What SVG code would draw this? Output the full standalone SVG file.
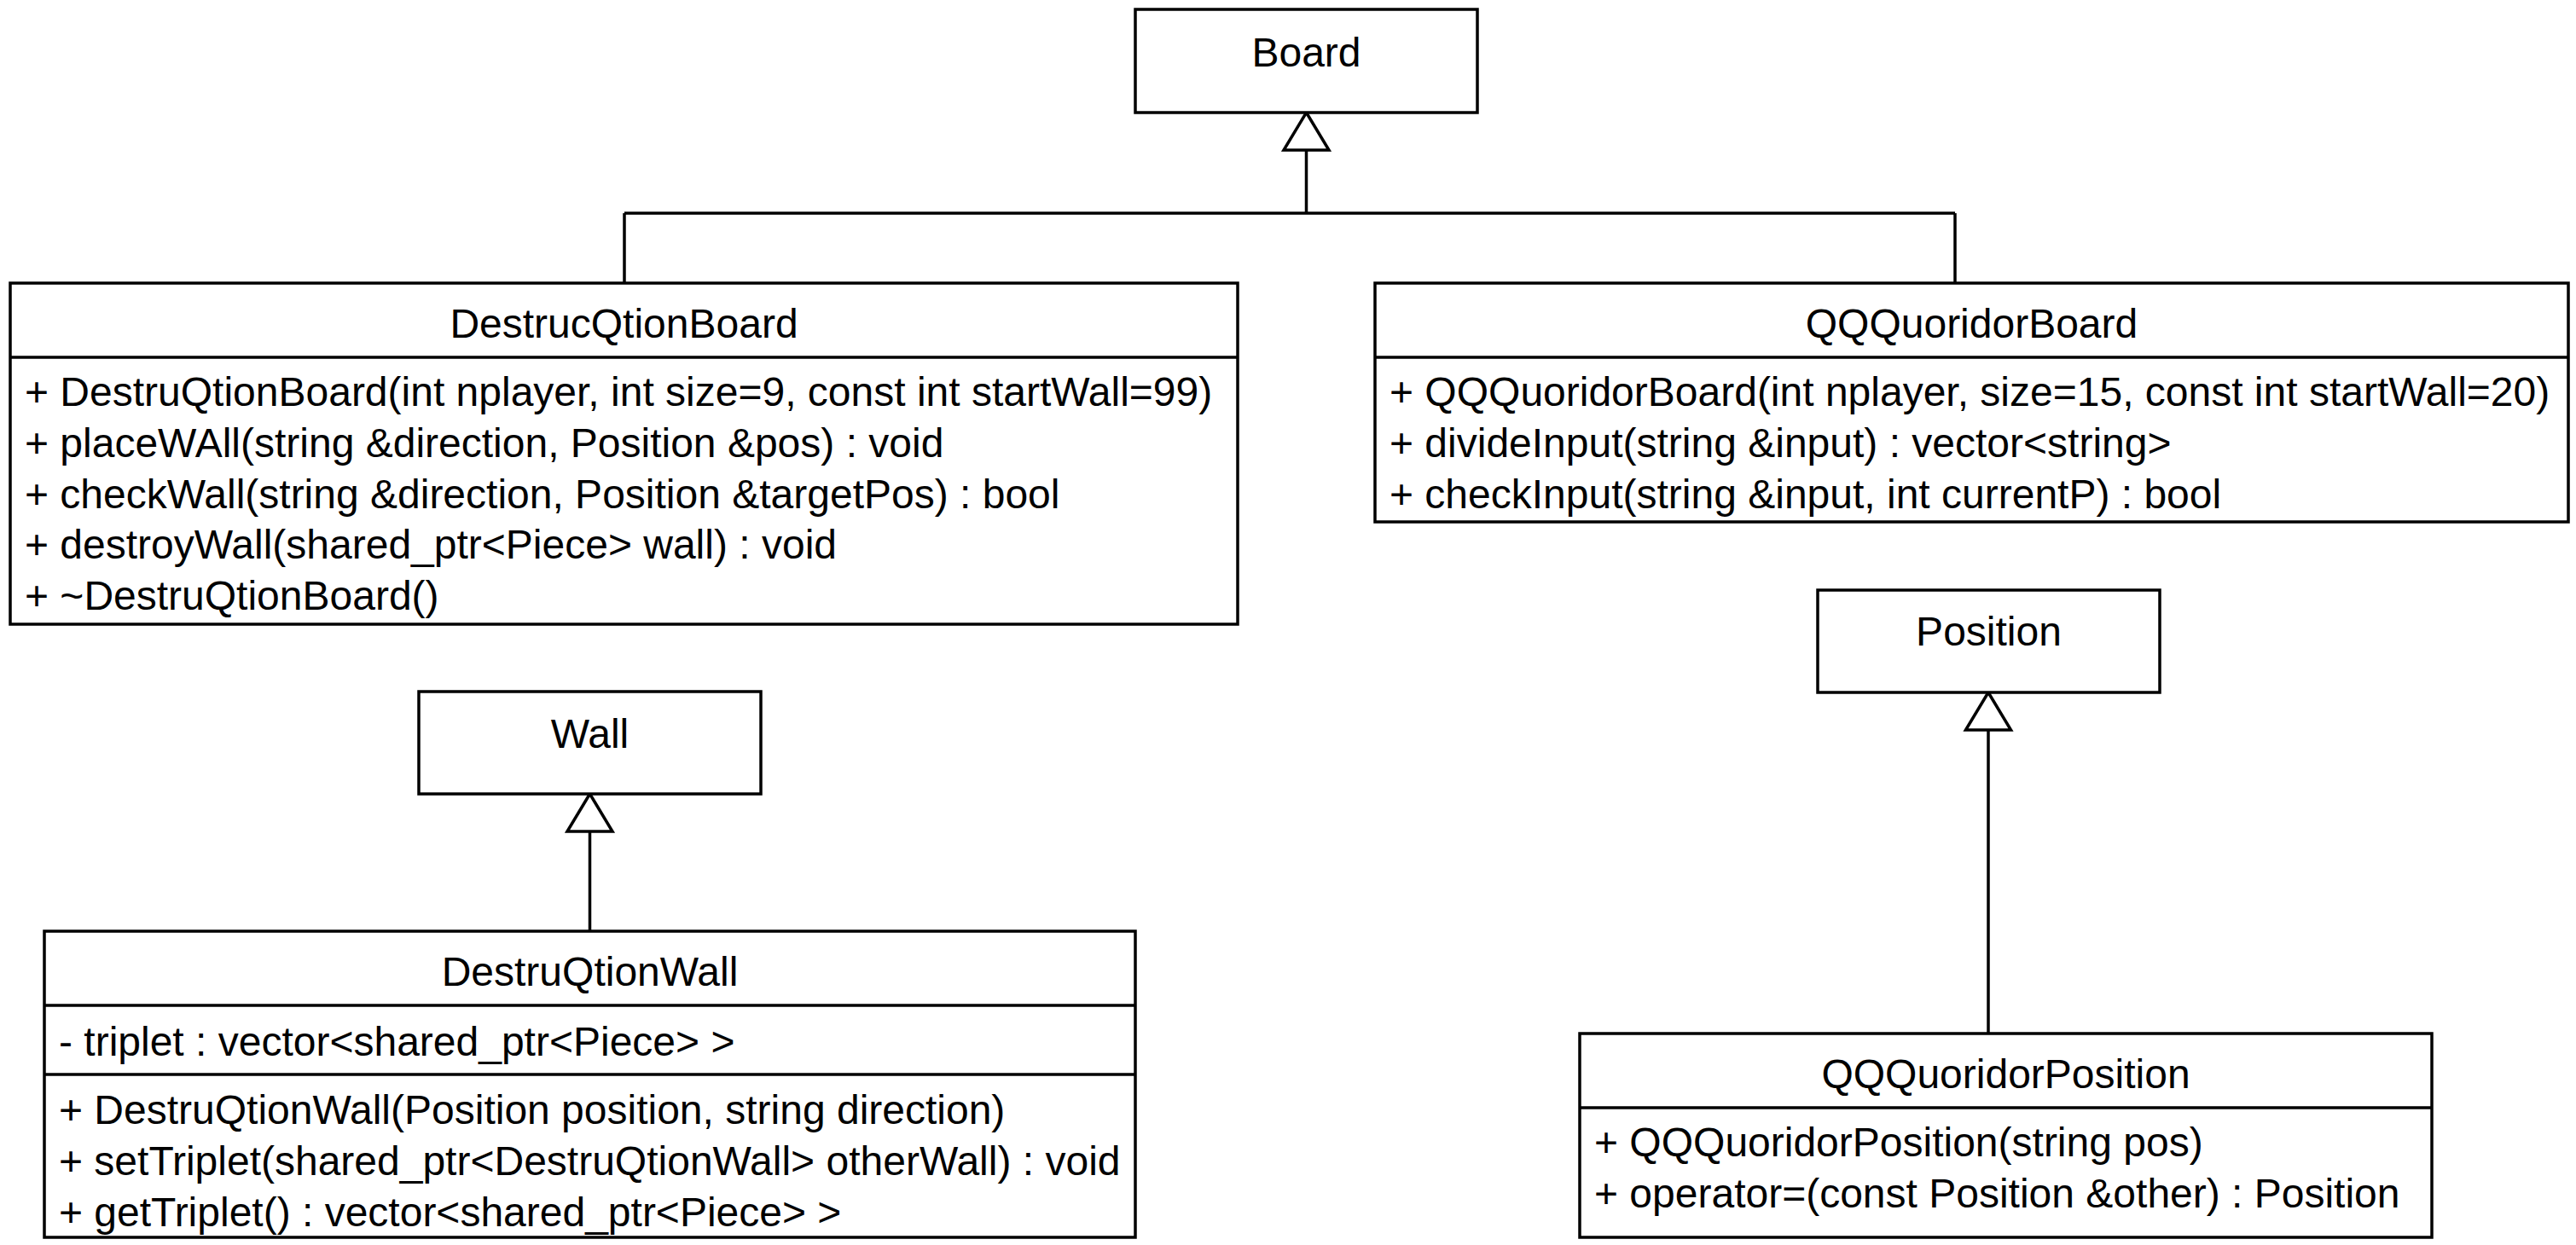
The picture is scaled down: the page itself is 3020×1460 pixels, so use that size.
<svg xmlns="http://www.w3.org/2000/svg" width="3020" height="1460" viewBox="0 0 3020 1460">
<style>
  .box { fill: #ffffff; stroke: #000000; stroke-width: 3.5; }
  .sep { stroke: #000000; stroke-width: 3.5; fill: none; }
  .edge { stroke: #000000; stroke-width: 3.5; fill: none; }
  .tri { fill: #ffffff; stroke: #000000; stroke-width: 3.5; stroke-linejoin: miter; }
  text { font-family: "Liberation Sans", Arial, sans-serif; font-size: 48px; fill: #000000; }
  .c { text-anchor: middle; }
</style>
<rect width="3020" height="1460" fill="#ffffff"/>

<g id="connectors">
  <path class="edge" d="M1531.5 176 V250 M732 250 H2292 M732 250 V332 M2292 250 V332"/>
  <polygon class="tri" points="1531.5,132 1558,176 1505,176"/>
  <path class="edge" d="M691.5 975 V1092"/>
  <polygon class="tri" points="691.5,931 718,975 665,975"/>
  <path class="edge" d="M2331 856 V1212"/>
  <polygon class="tri" points="2331,812 2357.5,856 2304.5,856"/>
</g>

<g id="Board">
  <rect class="box" x="1331" y="11" width="401" height="121"/>
  <text class="c" x="1531.5" y="78">Board</text>
</g>

<g id="DestrucQtionBoard">
  <rect class="box" x="12" y="332" width="1439" height="400"/>
  <line class="sep" x1="12" y1="419" x2="1451" y2="419"/>
  <text class="c" x="731.5" y="396">DestrucQtionBoard</text>
  <text x="29" y="476">+ DestruQtionBoard(int nplayer, int size=9, const int startWall=99)</text>
  <text x="29" y="536">+ placeWAll(string &amp;direction, Position &amp;pos) : void</text>
  <text x="29" y="596">+ checkWall(string &amp;direction, Position &amp;targetPos) : bool</text>
  <text x="29" y="655">+ destroyWall(shared_ptr&lt;Piece&gt; wall) : void</text>
  <text x="29" y="715">+ ~DestruQtionBoard()</text>
</g>

<g id="QQQuoridorBoard">
  <rect class="box" x="1612" y="332" width="1399" height="280"/>
  <line class="sep" x1="1612" y1="419" x2="3011" y2="419"/>
  <text class="c" x="2311.5" y="396">QQQuoridorBoard</text>
  <text x="1629" y="476">+ QQQuoridorBoard(int nplayer, size=15, const int startWall=20)</text>
  <text x="1629" y="536">+ divideInput(string &amp;input) : vector&lt;string&gt;</text>
  <text x="1629" y="596">+ checkInput(string &amp;input, int currentP) : bool</text>
</g>

<g id="Position">
  <rect class="box" x="2131" y="692" width="401" height="120"/>
  <text class="c" x="2331.5" y="757">Position</text>
</g>

<g id="Wall">
  <rect class="box" x="491" y="811" width="401" height="120"/>
  <text class="c" x="691.5" y="877">Wall</text>
</g>

<g id="DestruQtionWall">
  <rect class="box" x="52" y="1092" width="1279" height="359"/>
  <line class="sep" x1="52" y1="1179" x2="1331" y2="1179"/>
  <line class="sep" x1="52" y1="1260" x2="1331" y2="1260"/>
  <text class="c" x="691.5" y="1156">DestruQtionWall</text>
  <text x="69" y="1238">- triplet : vector&lt;shared_ptr&lt;Piece&gt; &gt;</text>
  <text x="69" y="1318">+ DestruQtionWall(Position position, string direction)</text>
  <text x="69" y="1378">+ setTriplet(shared_ptr&lt;DestruQtionWall&gt; otherWall) : void</text>
  <text x="69" y="1438">+ getTriplet() : vector&lt;shared_ptr&lt;Piece&gt; &gt;</text>
</g>

<g id="QQQuoridorPosition">
  <rect class="box" x="1852" y="1212" width="999" height="239"/>
  <line class="sep" x1="1852" y1="1299" x2="2851" y2="1299"/>
  <text class="c" x="2351.5" y="1276">QQQuoridorPosition</text>
  <text x="1869" y="1356">+ QQQuoridorPosition(string pos)</text>
  <text x="1869" y="1416">+ operator=(const Position &amp;other) : Position</text>
</g>
</svg>
